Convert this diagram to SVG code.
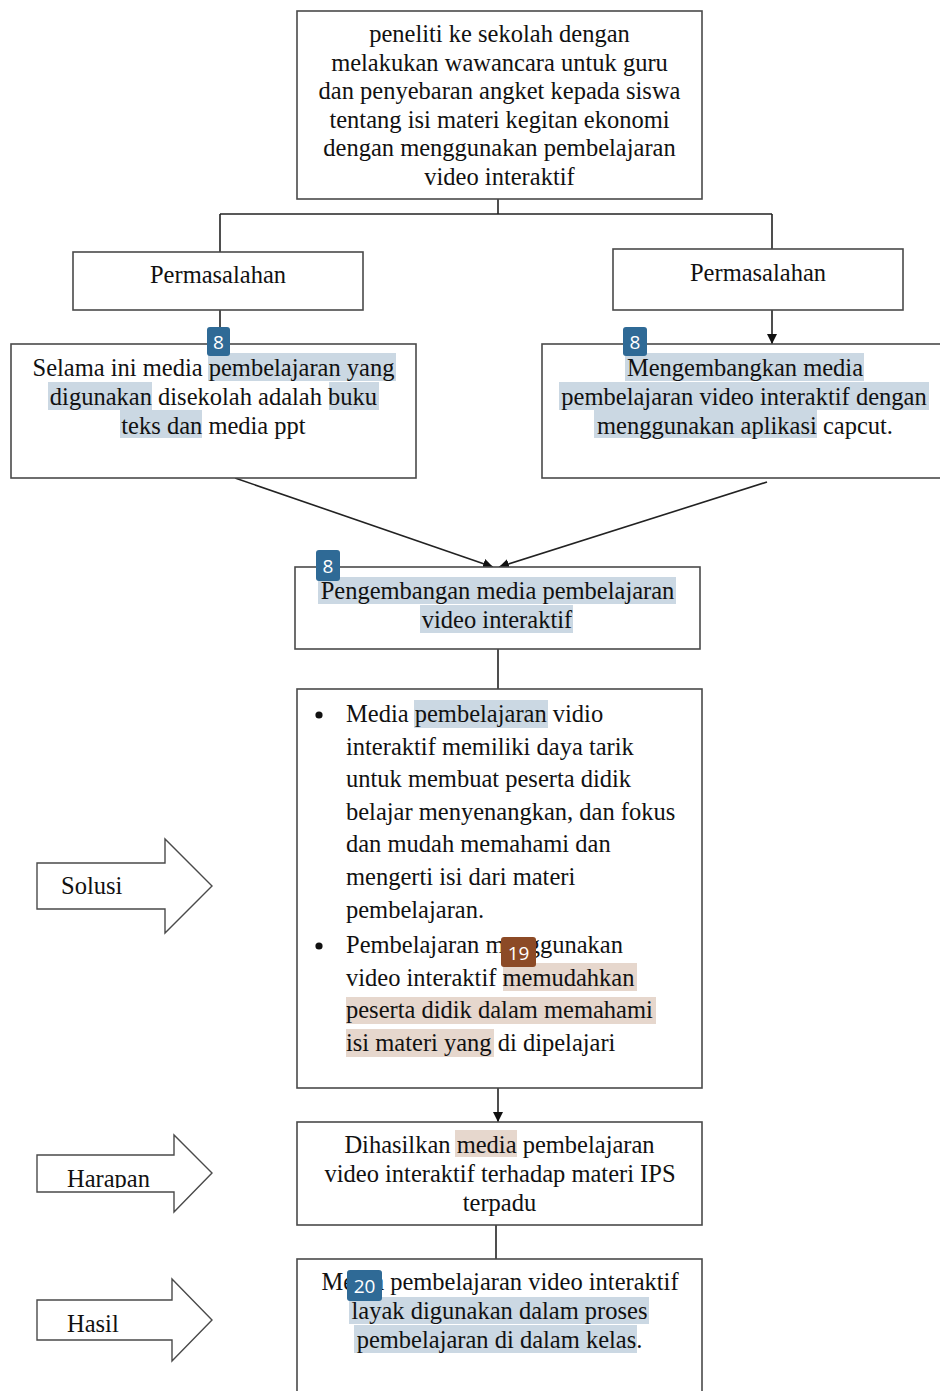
<svg xmlns="http://www.w3.org/2000/svg" width="940" height="1391" viewBox="0 0 940 1391">
<style>
.box{fill:#fff;stroke:#4a4a4a;stroke-width:1.6}
.t{font-family:"Liberation Serif","Times New Roman",serif;font-size:24.5px;fill:#111}
.c{text-anchor:middle}
.hb{fill:#cbd8e3}
.hr{fill:#e6d7cd}
.badge{fill:#2f6a96}
.badge2{fill:#8c4a26}
.bt{font-family:"Open Sans","DejaVu Sans",sans-serif;font-size:19px;fill:#fff;text-anchor:middle}
.ln{stroke:#222;stroke-width:1.6;fill:none}
.arr{fill:#fff;stroke:#4a4a4a;stroke-width:1.4}
</style>
<defs>
<marker id="ah" viewBox="0 0 10 10" refX="10" refY="5" markerWidth="10" markerHeight="10" markerUnits="userSpaceOnUse" orient="auto">
<path d="M0,0 L10,5 L0,10 z" fill="#111"/>
</marker>
<clipPath id="clipHar"><rect x="37" y="1150" width="140" height="38"/></clipPath>
</defs>
<rect width="940" height="1391" fill="#fff"/>

<g id="connectors">
<path class="ln" d="M498,199 V214"/>
<path class="ln" d="M220,214 H772"/>
<path class="ln" d="M220,214 V252"/>
<path class="ln" d="M772,214 V249"/>
<path class="ln" d="M220,310 V344" marker-end="url(#ah)"/>
<path class="ln" d="M772,310 V344" marker-end="url(#ah)"/>
<path class="ln" d="M235,478 L493,567" marker-end="url(#ah)"/>
<path class="ln" d="M767,482 L499,567" marker-end="url(#ah)"/>
<path class="ln" d="M498,649 V689"/>
<path class="ln" d="M498,1088 V1122" marker-end="url(#ah)"/>
<path class="ln" d="M496,1225 V1259"/>
</g>

<g id="n-top">
<rect class="box" x="297" y="11" width="405" height="188"/>
<text class="t c" x="499.5" y="42">peneliti ke sekolah dengan</text>
<text class="t c" x="499.5" y="70.5">melakukan wawancara untuk guru</text>
<text class="t c" x="499.5" y="99">dan penyebaran angket kepada siswa</text>
<text class="t c" x="499.5" y="127.5">tentang isi materi kegitan ekonomi</text>
<text class="t c" x="499.5" y="156">dengan menggunakan pembelajaran</text>
<text class="t c" x="499.5" y="184.5">video interaktif</text>
</g>

<g id="n-perm-left">
<rect class="box" x="73" y="252" width="290" height="58"/>
<text class="t c" x="218" y="283">Permasalahan</text>
</g>

<g id="n-perm-right">
<rect class="box" x="613" y="249" width="290" height="61"/>
<text class="t c" x="758" y="281">Permasalahan</text>
</g>

<g id="n-left">
<rect class="box" x="11" y="344" width="405" height="134"/>
<rect class="hb" x="208" y="353" width="188" height="28"/>
<rect class="hb" x="48" y="382" width="104" height="28"/>
<rect class="hb" x="329" y="382" width="50" height="28"/>
<rect class="hb" x="120" y="410" width="82" height="28"/>
<text class="t c" x="213.5" y="376">Selama ini media pembelajaran yang</text>
<text class="t c" x="213.5" y="405">digunakan disekolah adalah buku</text>
<text class="t c" x="213.5" y="434">teks dan media ppt</text>
<rect class="badge" x="207" y="327" width="23" height="29" rx="3"/>
<text class="bt" x="218.5" y="349">8</text>
</g>

<g id="n-right">
<rect class="box" x="542" y="344" width="410" height="134"/>
<rect class="hb" x="625" y="353" width="239" height="28"/>
<rect class="hb" x="559" y="382" width="370" height="28"/>
<rect class="hb" x="594" y="410" width="223" height="28"/>
<text class="t c" x="745" y="376">Mengembangkan media</text>
<text class="t c" x="744" y="405">pembelajaran video interaktif dengan</text>
<text class="t c" x="745" y="434">menggunakan aplikasi capcut.</text>
<rect class="badge" x="623" y="327" width="24" height="29" rx="3"/>
<text class="bt" x="635" y="349">8</text>
</g>

<g id="n-mid">
<rect class="box" x="295" y="567" width="405" height="82"/>
<rect class="hb" x="318" y="577" width="358" height="27"/>
<rect class="hb" x="420" y="605" width="153" height="28"/>
<text class="t c" x="497.5" y="599">Pengembangan media pembelajaran</text>
<text class="t c" x="497" y="628">video interaktif</text>
<rect class="badge" x="316" y="550" width="24" height="31" rx="3"/>
<text class="bt" x="328" y="573">8</text>
</g>

<g id="n-solusi-box">
<rect class="box" x="297" y="689" width="405" height="399"/>
<rect class="hb" x="414" y="700" width="134" height="28"/>
<rect class="hr" x="503" y="963" width="134" height="28"/>
<rect class="hr" x="346" y="997" width="310" height="27"/>
<rect class="hr" x="346" y="1029" width="148" height="28"/>
<circle cx="319" cy="715" r="3.6" fill="#111"/>
<circle cx="319" cy="946" r="3.6" fill="#111"/>
<text class="t" x="346" y="722">Media pembelajaran vidio</text>
<text class="t" x="346" y="754.5">interaktif memiliki daya tarik</text>
<text class="t" x="346" y="787">untuk membuat peserta didik</text>
<text class="t" x="346" y="819.5">belajar menyenangkan, dan fokus</text>
<text class="t" x="346" y="852">dan mudah memahami dan</text>
<text class="t" x="346" y="885">mengerti isi dari materi</text>
<text class="t" x="346" y="918">pembelajaran.</text>
<text class="t" x="346" y="953">Pembelajaran menggunakan</text>
<text class="t" x="346" y="985.5">video interaktif memudahkan</text>
<text class="t" x="346" y="1018">peserta didik dalam memahami</text>
<text class="t" x="346" y="1051">isi materi yang di dipelajari</text>
<rect class="badge2" x="501" y="937" width="35" height="30" rx="3"/>
<text class="bt" x="518.5" y="960">19</text>
</g>

<g id="n-harapan-box">
<rect class="box" x="297" y="1122" width="405" height="103"/>
<rect class="hr" x="455" y="1130" width="62" height="27"/>
<text class="t c" x="499.5" y="1153">Dihasilkan media pembelajaran</text>
<text class="t c" x="500" y="1182">video interaktif terhadap materi IPS</text>
<text class="t c" x="499.5" y="1210.5">terpadu</text>
</g>

<g id="n-hasil-box">
<rect class="box" x="297" y="1259" width="405" height="140"/>
<rect class="hb" x="349" y="1297" width="300" height="27"/>
<rect class="hb" x="354" y="1325" width="283" height="28"/>
<text class="t c" x="500" y="1290">Media pembelajaran video interaktif</text>
<text class="t c" x="499.5" y="1319">layak digunakan dalam proses</text>
<text class="t c" x="499.5" y="1347.5">pembelajaran di dalam kelas.</text>
<rect class="badge" x="347" y="1270" width="35" height="31" rx="3"/>
<text class="bt" x="364.5" y="1293">20</text>
</g>

<g id="n-solusi">
<path class="arr" d="M37,863 H165 V839 L212,886 L165,933 V909 H37 Z"/>
<text class="t" x="61" y="894">Solusi</text>
</g>

<g id="n-harapan">
<path class="arr" d="M37,1155 H174 V1135 L212,1173 L174,1212 V1192 H37 Z"/>
<text class="t" x="67" y="1187" clip-path="url(#clipHar)">Harapan</text>
</g>

<g id="n-hasil">
<path class="arr" d="M37,1300 H172 V1279 L212,1320 L172,1361 V1340 H37 Z"/>
<text class="t" x="67" y="1332">Hasil</text>
</g>
</svg>
